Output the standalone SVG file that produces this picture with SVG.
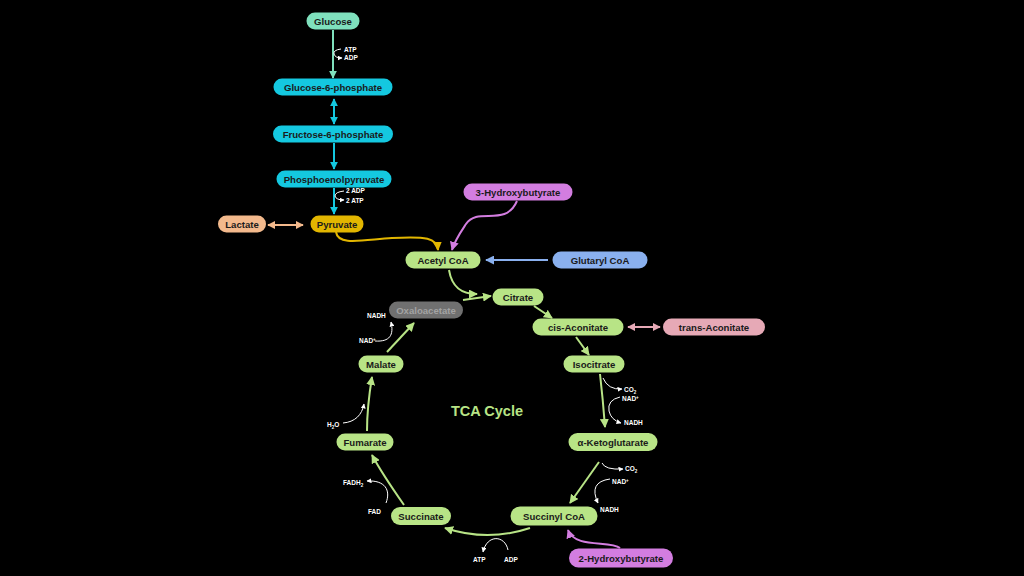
<svg xmlns="http://www.w3.org/2000/svg" width="1024" height="576" viewBox="0 0 1024 576">
<style>
.n{stroke:none}
.t{font-family:"Liberation Sans",Arial,sans-serif;font-weight:bold;font-size:9.6px;fill:#1a1a1a;text-anchor:middle}
.s{font-family:"Liberation Sans",Arial,sans-serif;font-weight:bold;font-size:6.5px;fill:#ffffff}
.c{fill:none;stroke-width:2}
.w{fill:none;stroke:#ffffff;stroke-width:1}
.mint{fill:#7fe0bd}.cyan{fill:#14c8e0}.gold{fill:#e2b600}.peach{fill:#f3b98c}.violet{fill:#d37de0}.green{fill:#b8e486}.blue{fill:#8ab0ee}.pink{fill:#e6a9b6}.gray{fill:#707070}
</style>
<defs>
<marker id="aMint" viewBox="0 0 10 10" refX="9" refY="5" markerWidth="8" markerHeight="8" markerUnits="userSpaceOnUse" orient="auto-start-reverse"><path d="M0,0L10,5L0,10z" fill="#7fe0bd"/></marker>
<marker id="aCyan" viewBox="0 0 10 10" refX="9" refY="5" markerWidth="8" markerHeight="8" markerUnits="userSpaceOnUse" orient="auto-start-reverse"><path d="M0,0L10,5L0,10z" fill="#14c8e0"/></marker>
<marker id="aGold" viewBox="0 0 10 10" refX="9" refY="5" markerWidth="9" markerHeight="9" markerUnits="userSpaceOnUse" orient="auto-start-reverse"><path d="M0,0L10,5L0,10z" fill="#e2b600"/></marker>
<marker id="aPeach" viewBox="0 0 10 10" refX="9" refY="5" markerWidth="8" markerHeight="8" markerUnits="userSpaceOnUse" orient="auto-start-reverse"><path d="M0,0L10,5L0,10z" fill="#f3b98c"/></marker>
<marker id="aViolet" viewBox="0 0 10 10" refX="9" refY="5" markerWidth="9" markerHeight="9" markerUnits="userSpaceOnUse" orient="auto-start-reverse"><path d="M0,0L10,5L0,10z" fill="#d37de0"/></marker>
<marker id="aBlue" viewBox="0 0 10 10" refX="9" refY="5" markerWidth="9" markerHeight="9" markerUnits="userSpaceOnUse" orient="auto-start-reverse"><path d="M0,0L10,5L0,10z" fill="#8ab0ee"/></marker>
<marker id="aPink" viewBox="0 0 10 10" refX="9" refY="5" markerWidth="8" markerHeight="8" markerUnits="userSpaceOnUse" orient="auto-start-reverse"><path d="M0,0L10,5L0,10z" fill="#e6a9b6"/></marker>
<marker id="aGreen" viewBox="0 0 10 10" refX="9" refY="5" markerWidth="9" markerHeight="9" markerUnits="userSpaceOnUse" orient="auto-start-reverse"><path d="M0,0L10,5L0,10z" fill="#b8e486"/></marker>
<marker id="aWhite" viewBox="0 0 10 10" refX="9" refY="5" markerWidth="5" markerHeight="5" markerUnits="userSpaceOnUse" orient="auto-start-reverse"><path d="M0,0L10,5L0,10z" fill="#ffffff"/></marker>
</defs>
<rect width="1024" height="576" fill="#000000"/>

<g id="connectors">
<path class="c" stroke="#7fe0bd" d="M333,30L333,78" marker-end="url(#aMint)"/>
<path class="w" d="M341,49Q333,50 334,54Q335,58 342,58" marker-end="url(#aWhite)"/>
<path class="c" stroke="#14c8e0" d="M334,99L334,124" marker-start="url(#aCyan)" marker-end="url(#aCyan)"/>
<path class="c" stroke="#14c8e0" d="M334,143L334,169" marker-end="url(#aCyan)"/>
<path class="c" stroke="#14c8e0" d="M334,188L334,214" marker-end="url(#aCyan)"/>
<path class="w" d="M344,191Q335,192 335,196Q336,200 344,200" marker-end="url(#aWhite)"/>
<path class="c" stroke="#f3b98c" d="M268,225L303,225" marker-start="url(#aPeach)" marker-end="url(#aPeach)"/>
<path class="c" stroke="#e2b600" d="M336,232C338,246 362,240 392,238C426,236 437,238 438,250" marker-end="url(#aGold)"/>
<path class="c" stroke="#d37de0" d="M517,201C505,228 478,206 466,224C460,233 455,240 452,250" marker-end="url(#aViolet)"/>
<path class="c" stroke="#8ab0ee" d="M548,260L486,260" marker-end="url(#aBlue)"/>
<path class="c" stroke="#b8e486" d="M449,270C452,288 462,294 477,294" marker-end="url(#aGreen)"/>
<path class="c" stroke="#b8e486" d="M463,300L491,296" marker-end="url(#aGreen)"/>
<path class="c" stroke="#b8e486" d="M534,306L552,318" marker-end="url(#aGreen)"/>
<path class="c" stroke="#b8e486" d="M576,337L589,355" marker-end="url(#aGreen)"/>
<path class="c" stroke="#e6a9b6" d="M628,327L660,327" marker-start="url(#aPink)" marker-end="url(#aPink)"/>
<path class="c" stroke="#b8e486" d="M600,374Q603,400 605,427" marker-end="url(#aGreen)"/>
<path class="w" d="M603,378Q608,390 622,389" marker-end="url(#aWhite)"/>
<path class="w" d="M620,397Q607,400 609,411Q611,420 621,423" marker-end="url(#aWhite)"/>
<path class="c" stroke="#b8e486" d="M599,462L570,503" marker-end="url(#aGreen)"/>
<path class="w" d="M602,463Q605,470 623,469" marker-end="url(#aWhite)"/>
<path class="w" d="M610,479Q588,482 598,503" marker-end="url(#aWhite)"/>
<path class="c" stroke="#d37de0" d="M620,548C610,540 575,549 568,530" marker-end="url(#aViolet)"/>
<path class="c" stroke="#b8e486" d="M530,528C500,538 472,537 445,528" marker-end="url(#aGreen)"/>
<path class="w" d="M508,550C505,535 487,534 483,552" marker-end="url(#aWhite)"/>
<path class="c" stroke="#b8e486" d="M404,505C390,485 380,470 372,455" marker-end="url(#aGreen)"/>
<path class="w" d="M386,503C391,490 385,480 367,481" marker-end="url(#aWhite)"/>
<path class="c" stroke="#b8e486" d="M367,431C367,410 369,395 372,377" marker-end="url(#aGreen)"/>
<path class="w" d="M343,423C355,422 362,415 364,404" marker-end="url(#aWhite)"/>
<path class="c" stroke="#b8e486" d="M387,352L414,323" marker-end="url(#aGreen)"/>
<path class="w" d="M375,341C390,342 394,335 391,322" marker-end="url(#aWhite)"/>
</g>

<g id="cofactors">
<text class="s" x="344" y="52">ATP</text>
<text class="s" x="344" y="60">ADP</text>
<text class="s" x="346" y="193">2 ADP</text>
<text class="s" x="346" y="203">2 ATP</text>
<text class="s" x="624" y="392">CO<tspan font-size="4.5" dy="2">2</tspan></text>
<text class="s" x="622" y="401">NAD<tspan font-size="4.5" dy="-2">+</tspan></text>
<text class="s" x="624" y="425">NADH</text>
<text class="s" x="625" y="471">CO<tspan font-size="4.5" dy="2">2</tspan></text>
<text class="s" x="612" y="484">NAD<tspan font-size="4.5" dy="-2">+</tspan></text>
<text class="s" x="600" y="512">NADH</text>
<text class="s" x="473" y="562">ATP</text>
<text class="s" x="504" y="562">ADP</text>
<text class="s" x="368" y="514">FAD</text>
<text class="s" x="343" y="485">FADH<tspan font-size="4.5" dy="2">2</tspan></text>
<text class="s" x="327" y="427">H<tspan font-size="4.5" dy="2">2</tspan><tspan dy="-2">O</tspan></text>
<text class="s" x="367" y="318">NADH</text>
<text class="s" x="359" y="343">NAD<tspan font-size="4.5" dy="-2">+</tspan></text>
</g>

<text x="487" y="416" font-family="Liberation Sans,Arial,sans-serif" font-weight="bold" font-size="14.5" fill="#b8e486" text-anchor="middle">TCA Cycle</text>

<g id="glucose"><rect class="n mint" x="306.5" y="12.5" width="53" height="17" rx="8.5"/><text class="t" x="333" y="24.5">Glucose</text></g>
<g id="g6p"><rect class="n cyan" x="273.5" y="78.5" width="119" height="17" rx="8.5"/><text class="t" x="333" y="90.5">Glucose-6-phosphate</text></g>
<g id="f6p"><rect class="n cyan" x="273" y="125.5" width="120" height="17" rx="8.5"/><text class="t" x="333" y="137.5">Fructose-6-phosphate</text></g>
<g id="pep"><rect class="n cyan" x="276.5" y="170.5" width="115" height="17" rx="8.5"/><text class="t" x="334" y="182.5">Phosphoenolpyruvate</text></g>
<g id="pyruvate"><rect class="n gold" x="310.5" y="215.5" width="53" height="17" rx="8.5"/><text class="t" x="337" y="227.5">Pyruvate</text></g>
<g id="lactate"><rect class="n peach" x="218" y="215.5" width="48" height="17" rx="8.5"/><text class="t" x="242" y="227.5">Lactate</text></g>
<g id="hydroxybutyrate3"><rect class="n violet" x="463.5" y="183.5" width="109" height="17" rx="8.5"/><text class="t" x="518" y="195.5">3-Hydroxybutyrate</text></g>
<g id="acetylcoa"><rect class="n green" x="405.5" y="251.5" width="75" height="17" rx="8.5"/><text class="t" x="443" y="263.5">Acetyl CoA</text></g>
<g id="glutarylcoa"><rect class="n blue" x="552.5" y="251.5" width="95" height="17" rx="8.5"/><text class="t" x="600" y="263.5">Glutaryl CoA</text></g>
<g id="citrate"><rect class="n green" x="492.5" y="288.5" width="51" height="17" rx="8.5"/><text class="t" x="518" y="300.5">Citrate</text></g>
<g id="oxaloacetate"><rect class="n gray" x="389" y="301.5" width="74" height="17" rx="8.5"/><text class="t" x="426" y="313.5" style="fill:#a3a3a3">Oxaloacetate</text></g>
<g id="cisaconitate"><rect class="n green" x="532.5" y="318.5" width="91" height="17" rx="8.5"/><text class="t" x="578" y="330.5">cis-Aconitate</text></g>
<g id="transaconitate"><rect class="n pink" x="663" y="318.5" width="102" height="17" rx="8.5"/><text class="t" x="714" y="330.5">trans-Aconitate</text></g>
<g id="isocitrate"><rect class="n green" x="563.5" y="355.5" width="61" height="17" rx="8.5"/><text class="t" x="594" y="367.5">Isocitrate</text></g>
<g id="aketoglutarate"><rect class="n green" x="568.5" y="433" width="89" height="18" rx="9"/><text class="t" x="613" y="445.5">α-Ketoglutarate</text></g>
<g id="succinylcoa"><rect class="n green" x="510.5" y="506.5" width="87" height="19" rx="9.5"/><text class="t" x="554" y="519.5">Succinyl CoA</text></g>
<g id="hydroxybutyrate2"><rect class="n violet" x="569" y="548.5" width="104" height="19" rx="9.5"/><text class="t" x="621" y="561.5">2-Hydroxybutyrate</text></g>
<g id="succinate"><rect class="n green" x="391" y="507" width="60" height="18" rx="9"/><text class="t" x="421" y="519.5">Succinate</text></g>
<g id="fumarate"><rect class="n green" x="336.5" y="433.5" width="57" height="17" rx="8.5"/><text class="t" x="365" y="445.5">Fumarate</text></g>
<g id="malate"><rect class="n green" x="358.5" y="355.5" width="45" height="17" rx="8.5"/><text class="t" x="381" y="367.5">Malate</text></g>
</svg>
